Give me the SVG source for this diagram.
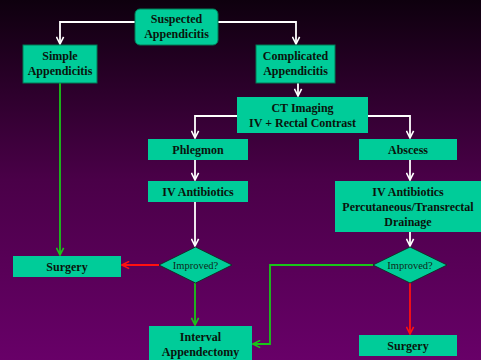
<svg xmlns="http://www.w3.org/2000/svg" width="481" height="360" viewBox="0 0 481 360">
<defs>
<linearGradient id="bg" x1="0" y1="0" x2="0" y2="1">
<stop offset="0" stop-color="#0e000e"/>
<stop offset="0.5" stop-color="#4a0048"/>
<stop offset="1" stop-color="#680068"/>
</linearGradient>
<marker id="aw" viewBox="0 0 10 10" refX="9" refY="5" markerWidth="9" markerHeight="9" markerUnits="userSpaceOnUse" orient="auto"><path d="M1,1 L9,5 L1,9" fill="none" stroke="#ffffff" stroke-width="1.8"/></marker>
<marker id="ag" viewBox="0 0 10 10" refX="9" refY="5" markerWidth="9" markerHeight="9" markerUnits="userSpaceOnUse" orient="auto"><path d="M1,1 L9,5 L1,9" fill="none" stroke="#19c519" stroke-width="1.8"/></marker>
<marker id="ar" viewBox="0 0 10 10" refX="9" refY="5" markerWidth="9" markerHeight="9" markerUnits="userSpaceOnUse" orient="auto"><path d="M1,1 L9,5 L1,9" fill="none" stroke="#ff1010" stroke-width="1.8"/></marker>
</defs>
<style>
.box{fill:#00cc99;}
.bb{fill:#00cc99;stroke:#007a55;stroke-width:1;}
.t{font-family:"Liberation Serif","Times New Roman",serif;font-weight:bold;font-size:12px;fill:#0a140c;text-anchor:middle;}
.d{font-family:"Liberation Serif","Times New Roman",serif;font-size:10.5px;fill:#0f2a1a;text-anchor:middle;}
.w{fill:none;stroke:#ffffff;stroke-width:1.8;marker-end:url(#aw);}
.g{fill:none;stroke:#19c519;stroke-width:1.8;marker-end:url(#ag);}
.r{fill:none;stroke:#ff1010;stroke-width:1.8;marker-end:url(#ar);}
.dm{fill:#00cc99;stroke:#0a2a1a;stroke-width:0.8;}
</style>
<rect width="481" height="360" fill="url(#bg)"/>
<g id="connectors">
<path class="w" d="M135,22 H60 V44"/>
<path class="w" d="M218,22 H296 V44"/>
<path class="w" d="M298,83 V96"/>
<path class="w" d="M237,116 H195 V138"/>
<path class="w" d="M368,116 H410 V138"/>
<path class="w" d="M195,160 V180"/>
<path class="w" d="M410,160 V180"/>
<path class="w" d="M195,202 V246"/>
<path class="w" d="M410,232 V246"/>
<path class="g" d="M60,83 V255"/>
<path class="r" d="M159,265 H122"/>
<path class="g" d="M195,283 V325"/>
<path class="g" d="M373,265 H270 V344 H253"/>
<path class="r" d="M410,283 V334"/>
</g>
<g id="suspected"><rect class="bb" x="135" y="9" width="83" height="36" rx="5"/><text class="t" x="176.5" y="23">Suspected</text><text class="t" x="176.5" y="38">Appendicitis</text></g>
<g id="simple"><rect class="bb" x="23" y="45" width="74" height="38"/><text class="t" x="60" y="60">Simple</text><text class="t" x="60" y="75">Appendicitis</text></g>
<g id="complicated"><rect class="bb" x="256" y="45" width="79" height="38"/><text class="t" x="295.5" y="60">Complicated</text><text class="t" x="295.5" y="75">Appendicitis</text></g>
<g id="ct"><rect class="box" x="237" y="97" width="131" height="36"/><text class="t" x="302.5" y="112">CT Imaging</text><text class="t" x="302.5" y="127">IV + Rectal Contrast</text></g>
<g id="phlegmon"><rect class="box" x="148" y="139" width="100" height="21"/><text class="t" x="198" y="154">Phlegmon</text></g>
<g id="abscess"><rect class="box" x="359" y="139" width="98" height="21"/><text class="t" x="408" y="154">Abscess</text></g>
<g id="ivabx"><rect class="box" x="148" y="181" width="100" height="21"/><text class="t" x="198" y="196">IV Antibiotics</text></g>
<g id="ivdrain"><rect class="box" x="335" y="181" width="146" height="51"/><text class="t" x="408" y="196">IV Antibiotics</text><text class="t" x="408" y="211">Percutaneous/Transrectal</text><text class="t" x="408" y="226">Drainage</text></g>
<g id="improved1"><polygon class="dm" points="195.5,247 232,265 195.5,283 159,265"/><text class="d" x="195.5" y="268.5">Improved?</text></g>
<g id="improved2"><polygon class="dm" points="410,247 447,265 410,283 373,265"/><text class="d" x="410" y="268.5">Improved?</text></g>
<g id="surgery1"><rect class="box" x="13" y="256" width="108" height="21"/><text class="t" x="67" y="271">Surgery</text></g>
<g id="interval"><rect class="box" x="149" y="326" width="103" height="36"/><text class="t" x="200.5" y="341">Interval</text><text class="t" x="200.5" y="356">Appendectomy</text></g>
<g id="surgery2"><rect class="box" x="359" y="335" width="98" height="21"/><text class="t" x="408" y="350">Surgery</text></g>
</svg>
